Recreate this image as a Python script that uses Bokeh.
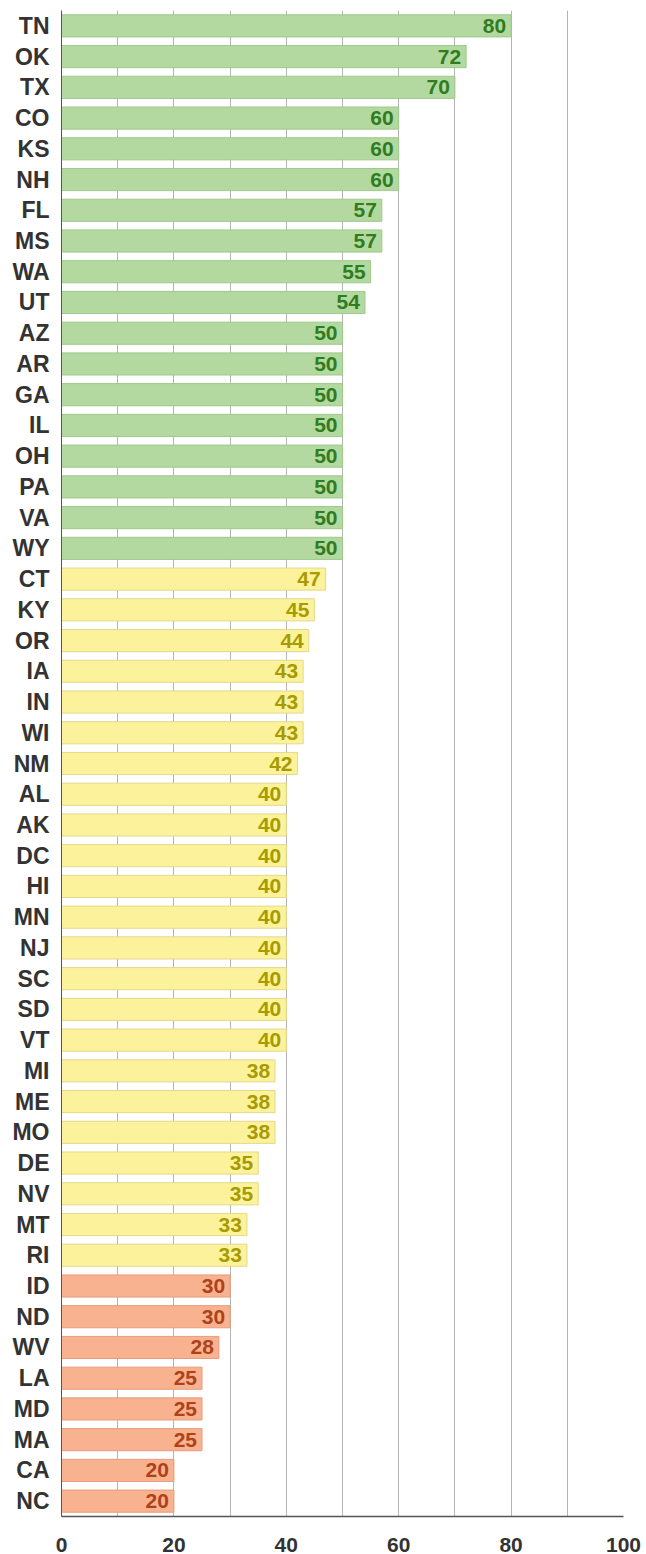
from bokeh.plotting import figure
from bokeh.models import ColumnDataSource, FactorRange, FixedTicker
from bokeh.core.properties import value
from bokeh.embed import file_html
from bokeh.resources import INLINE

states = ["TN", "OK", "TX", "CO", "KS", "NH", "FL", "MS", "WA", "UT",
          "AZ", "AR", "GA", "IL", "OH", "PA", "VA", "WY",
          "CT", "KY", "OR", "IA", "IN", "WI", "NM", "AL", "AK", "DC", "HI",
          "MN", "NJ", "SC", "SD", "VT", "MI", "ME", "MO", "DE", "NV", "MT", "RI",
          "ID", "ND", "WV", "LA", "MD", "MA", "CA", "NC"]
values = [80, 72, 70, 60, 60, 60, 57, 57, 55, 54,
          50, 50, 50, 50, 50, 50, 50, 50,
          47, 45, 44, 43, 43, 43, 42, 40, 40, 40, 40,
          40, 40, 40, 40, 40, 38, 38, 38, 35, 35, 33, 33,
          30, 30, 28, 25, 25, 25, 20, 20]
x_ticks = [0, 20, 40, 60, 80, 100]
grid_ticks = [0, 10, 20, 30, 40, 50, 60, 70, 80, 90, 100]

FONT = "Liberation Sans"

def tier(v):
    if v >= 50:
        return ("#b3d9a0", "#9dc98a", "#2f7d1f")
    if v > 30:
        return ("#fcf29c", "#e3d98a", "#a89b00")
    return ("#f9b28f", "#e79c7a", "#ad421b")

fills = [tier(v)[0] for v in values]
lines = [tier(v)[1] for v in values]
tcols = [tier(v)[2] for v in values]

src = ColumnDataSource(dict(state=states, val=values, fill=fills, line=lines,
                            tcol=tcols, lab=[str(v) for v in values]))

p = figure(width=646, height=1554, output_backend="svg", toolbar_location=None,
           y_range=FactorRange(factors=states[::-1]), x_range=(0, 100),
           min_border_left=61, min_border_right=23, min_border_top=10, min_border_bottom=37)
p.outline_line_color = None
p.background_fill_color = "white"

p.hbar(y="state", right="val", left=0, height=0.72, source=src,
       fill_color="fill", line_color="line", line_width=1)
p.text(x="val", y="state", text="lab", source=src, x_offset=-5,
       text_align="right", text_baseline="middle", text_color="tcol",
       text_font=value(FONT), text_font_style="bold", text_font_size="21px")

p.xgrid.ticker = FixedTicker(ticks=grid_ticks)
p.xgrid.grid_line_color = "#b4b4b4"
p.xgrid.grid_line_width = 1
p.ygrid.grid_line_color = None

p.xaxis.ticker = FixedTicker(ticks=x_ticks)
p.xaxis.axis_line_color = "#555555"
p.xaxis.axis_line_width = 1.5
p.xaxis.major_tick_line_color = None
p.xaxis.minor_tick_line_color = None
p.xaxis.major_label_standoff = 15
p.xaxis.major_label_text_font = FONT
p.xaxis.major_label_text_font_style = "bold"
p.xaxis.major_label_text_font_size = "21px"
p.xaxis.major_label_text_color = "#333333"

p.yaxis.axis_line_color = "#555555"
p.yaxis.major_tick_line_color = None
p.yaxis.minor_tick_line_color = None
p.yaxis.major_label_standoff = 6
p.yaxis.major_label_text_font = FONT
p.yaxis.major_label_text_font_style = "bold"
p.yaxis.major_label_text_font_size = "23px"
p.yaxis.major_label_text_color = "#333333"

open("out.html", "w").write(file_html(p, INLINE))
